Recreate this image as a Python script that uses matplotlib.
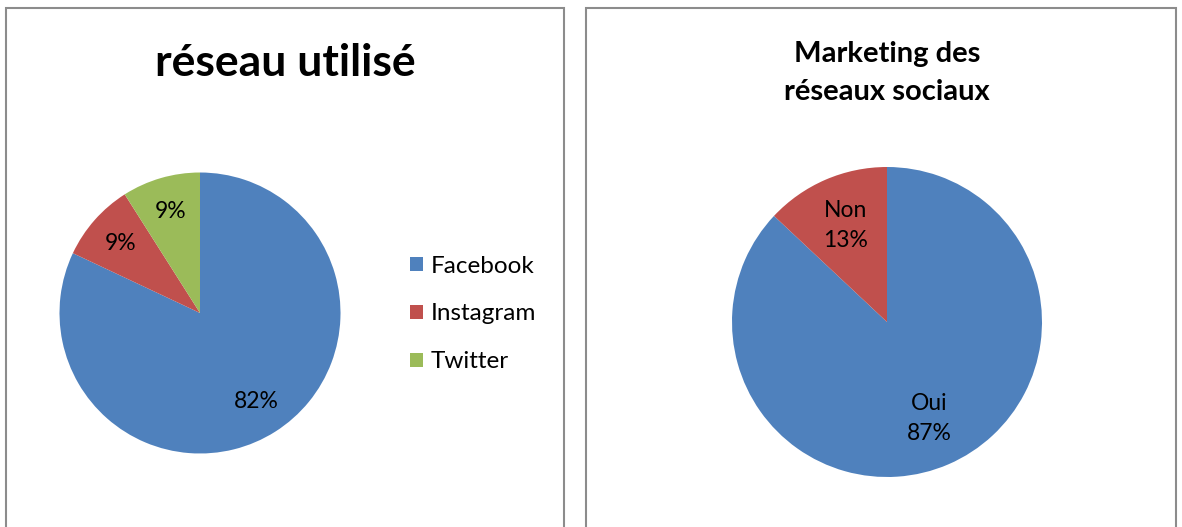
import matplotlib
matplotlib.use('Agg')
import matplotlib.pyplot as plt
from matplotlib.patches import Rectangle, Patch

plt.rcParams['font.family'] = ['Lato', 'DejaVu Sans']

# données
reseaux = ['Facebook', 'Instagram', 'Twitter']
reseaux_pct = [82, 9, 9]
marketing = ['Oui', 'Non']
marketing_pct = [87, 13]

couleurs = ['#4F81BD', '#C0504D', '#9BBB59']

W, H = 1182, 527
fig = plt.figure(figsize=(W / 100, H / 100), dpi=100)


def px_axes(x0, y0, x1, y1):
    # boite en pixels (origine en haut a gauche)
    return fig.add_axes([x0 / W, (H - y1) / H, (x1 - x0) / W, (y1 - y0) / H])


# cadres des deux graphiques
for x0, x1 in [(6, 564), (586, 1176)]:
    fig.patches.append(Rectangle((x0 / W, -0.05), (x1 - x0) / W, (H - 8) / H + 0.05,
                                 transform=fig.transFigure, fill=False,
                                 edgecolor='#8c8c8c', linewidth=1.5))

# graphique 1
ax1 = px_axes(59.5, 172.5, 340.5, 453.5)
w1, _, t1 = ax1.pie(reseaux_pct, colors=couleurs, startangle=90, counterclock=False,
                    autopct='%.0f%%', pctdistance=0.75, wedgeprops=dict(linewidth=0),
                    textprops=dict(fontsize=16.5, color='black'))
ax1.set_xlim(-1, 1)
ax1.set_ylim(-1, 1)
fig.text(285 / W, 1 - 63 / H, 'réseau utilisé', ha='center', va='center',
         fontsize=32, fontweight='bold')

handles = [Patch(facecolor=c, edgecolor='none') for c in couleurs]
fig.legend(handles, reseaux, loc='center left', bbox_to_anchor=(391 / W, 1 - 314 / H),
           frameon=False, fontsize=17.5, handlelength=0.5, handleheight=0.5,
           handletextpad=0.35, labelspacing=1.1, borderpad=0.3)

# graphique 2
ax2 = px_axes(732, 167, 1042, 477)
lbl = [f'{m}\n{p}%' for m, p in zip(marketing, marketing_pct)]
w2, t2 = ax2.pie(marketing_pct, colors=couleurs[:2], startangle=90, counterclock=False,
                 labels=lbl, labeldistance=0.68, wedgeprops=dict(linewidth=0),
                 textprops=dict(fontsize=16.5, color='black', ha='center', va='center',
                                linespacing=1.55))
for t in t2:
    t.set_ha('center')
ax2.set_xlim(-1, 1)
ax2.set_ylim(-1, 1)
fig.text(887 / W, 1 - 73 / H, 'Marketing des\nréseaux sociaux', ha='center', va='center',
         fontsize=21, fontweight='bold', linespacing=1.55)

fig.savefig('out.png', dpi=100)
